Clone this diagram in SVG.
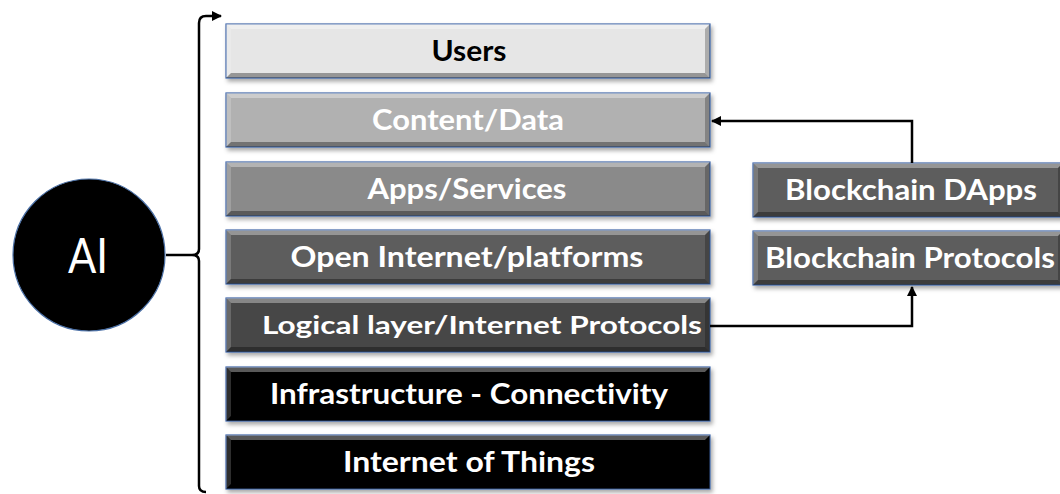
<svg xmlns="http://www.w3.org/2000/svg" xmlns:xlink="http://www.w3.org/1999/xlink" width="1060" height="494" viewBox="0 0 1060 494">
<style>
.box{stroke:#3f66a8;stroke-width:1.2}
.lbl{font-family:Lato,"Open Sans","Liberation Sans",sans-serif;font-weight:700;font-size:28px;text-anchor:middle;font-variant-ligatures:none}
.w{fill:#ffffff}
.k{fill:#000000}
.hl{fill:#ffffff;opacity:0.35}
.hl2{fill:#ffffff;opacity:0.18}
.dk{fill:#000000;opacity:0.35}
.dk2{fill:#000000;opacity:0.25}
.conn{fill:none;stroke:#000;stroke-width:2.5}
.sh{filter:url(#shadow)}
</style>
<defs>
<filter id="shadow" x="-5%" y="-20%" width="115%" height="160%">
<feDropShadow dx="2" dy="3" stdDeviation="2" flood-color="#000" flood-opacity="0.35"/>
</filter>
<marker id="arr" viewBox="0 0 10 10" refX="9" refY="5" markerWidth="4" markerHeight="4" orient="auto" markerUnits="strokeWidth">
<path d="M0,0 L10,5 L0,10 z" fill="#000"/>
</marker>
<g id="bevelM">
<polygon class="hl" points="0,0 484,0 479,5 5,5"/>
<polygon class="hl2" points="0,0 5,5 5,49 0,54"/>
<polygon class="dk" points="0,54 5,49 479,49 484,54"/>
<polygon class="dk2" points="484,0 484,54 479,49 479,5"/>
</g>
<g id="bevelB">
<polygon class="hl" points="0,0 310,0 305,5 5,5"/>
<polygon class="hl2" points="0,0 5,5 5,49 0,54"/>
<polygon class="dk" points="0,54 5,49 305,49 310,54"/>
<polygon class="dk2" points="310,0 310,54 305,49 305,5"/>
</g>
</defs>
<rect width="1060" height="494" fill="#ffffff"/>

<g id="users">
<rect class="box sh" x="226" y="24" width="484" height="54" fill="#e6e6e6"/>
<use xlink:href="#bevelM" transform="translate(226,24)"/>
<text class="lbl k" x="469" y="61" textLength="75" lengthAdjust="spacingAndGlyphs">Users</text>
</g>
<g id="content">
<rect class="box sh" x="226" y="93" width="484" height="54" fill="#b1b1b1"/>
<use xlink:href="#bevelM" transform="translate(226,93)"/>
<text class="lbl w" x="468" y="130" textLength="192" lengthAdjust="spacingAndGlyphs">Content/Data</text>
</g>
<g id="apps">
<rect class="box sh" x="226" y="162" width="484" height="54" fill="#8a8a8a"/>
<use xlink:href="#bevelM" transform="translate(226,162)"/>
<text class="lbl w" x="467" y="199" textLength="199" lengthAdjust="spacingAndGlyphs">Apps/Services</text>
</g>
<g id="open">
<rect class="box sh" x="226" y="230" width="484" height="54" fill="#5d5d5d"/>
<use xlink:href="#bevelM" transform="translate(226,230)"/>
<text class="lbl w" x="467" y="267" textLength="353" lengthAdjust="spacingAndGlyphs">Open Internet/platforms</text>
</g>
<g id="logical">
<rect class="box sh" x="226" y="298" width="484" height="54" fill="#464646"/>
<use xlink:href="#bevelM" transform="translate(226,298)"/>
<text class="lbl w" x="482" y="334" style="font-size:25px" textLength="440" lengthAdjust="spacingAndGlyphs">Logical layer/Internet Protocols</text>
</g>
<g id="infra">
<rect class="box sh" x="226" y="367" width="484" height="54" fill="#000000"/>
<use xlink:href="#bevelM" transform="translate(226,367)"/>
<text class="lbl w" x="469" y="404" textLength="398" lengthAdjust="spacingAndGlyphs">Infrastructure - Connectivity</text>
</g>
<g id="iot">
<rect class="box sh" x="226" y="435" width="484" height="54" fill="#000000"/>
<use xlink:href="#bevelM" transform="translate(226,435)"/>
<text class="lbl w" x="469" y="472" textLength="252" lengthAdjust="spacingAndGlyphs">Internet of Things</text>
</g>
<g id="dapps">
<rect class="box sh" x="753" y="163" width="310" height="54" fill="#5d5d5d"/>
<use xlink:href="#bevelB" transform="translate(753,163)"/>
<text class="lbl w" x="911" y="200" textLength="252" lengthAdjust="spacingAndGlyphs">Blockchain DApps</text>
</g>
<g id="bprotocols">
<rect class="box sh" x="753" y="231" width="310" height="54" fill="#5d5d5d"/>
<use xlink:href="#bevelB" transform="translate(753,231)"/>
<text class="lbl w" x="910" y="268" textLength="290" lengthAdjust="spacingAndGlyphs">Blockchain Protocols</text>
</g>
<g id="ai">
<circle cx="89" cy="255" r="76" fill="#000" stroke="#4a6fa5" stroke-width="1.2"/>
<text x="88" y="273" fill="#fff" style="font-family:Lato,'Open Sans','Liberation Sans',sans-serif;font-size:48px;text-anchor:middle" textLength="40" lengthAdjust="spacingAndGlyphs">AI</text>
</g>

<g id="connectors">
<path class="conn" d="M912,163 V121 H712" marker-end="url(#arr)"/>
<path class="conn" d="M710,326 H912 V287" marker-end="url(#arr)"/>
<path class="conn" d="M206,492 Q199,492 199,486 V261 Q199,255 192,255 Q199,255 199,249 V23 Q199,16 206,16 H221" marker-end="url(#arr)"/>
<path class="conn" d="M166,255 H192"/>
</g>
</svg>
